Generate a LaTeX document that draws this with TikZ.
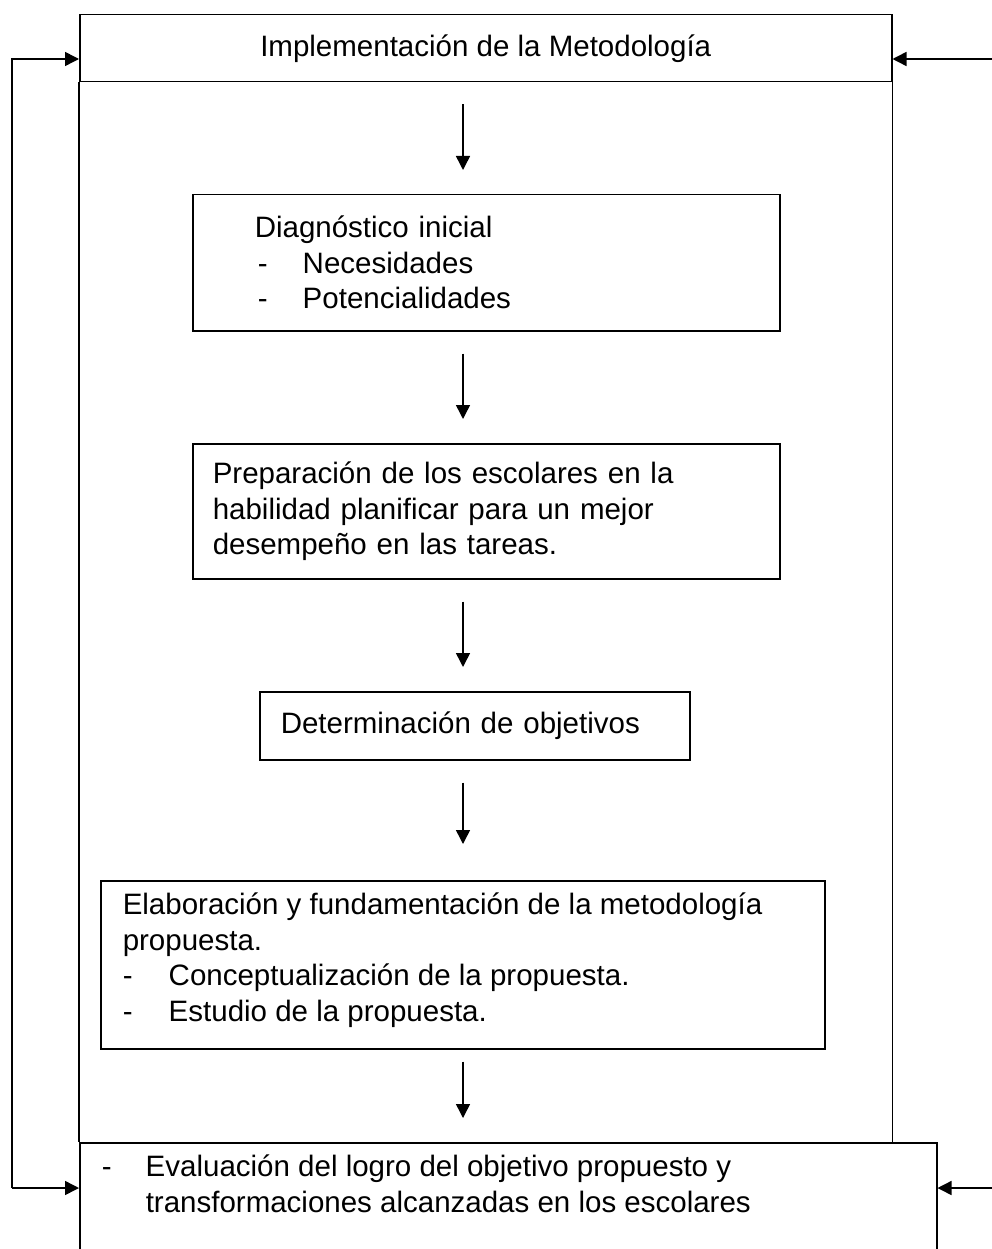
\documentclass[tikz,border=0pt]{standalone}
\usepackage{fontspec}
\setmainfont{Liberation Sans}
\usetikzlibrary{arrows.meta}
\tikzset{
  caja/.style={draw,line width=1.5pt,inner ysep=0pt,align=left,anchor=north west},
  flecha/.style={line width=1.5pt,-{Triangle[length=14pt,width=14pt]}},
  paso/.style={flecha,shorten <=22pt,shorten >=24pt}
}
\newcommand{\guion}{\makebox[48pt][l]{\hspace{3pt}-}}

\begin{document}
\begin{tikzpicture}[x=1pt,y=-1pt,font=\fontsize{29.5}{35.5}\selectfont]% ------ Metodologia ----------------
    \useasboundingbox (0,0) rectangle (992,1249);
    \node [caja,minimum width=812pt,minimum height=67pt,align=center] (impl) at (79,14) {Implementación de la Metodología};
    \node [caja,minimum width=587pt,minimum height=136pt,text width=463pt,inner xsep=62pt] (diag) at (192,194)
      {Diagnóstico inicial\\\guion Necesidades\\\guion Potencialidades};
    \node [caja,minimum width=587pt,minimum height=135pt,text width=547pt,inner xsep=20pt] (prep) at (192,443)
      {Preparación de los escolares en la\\habilidad planificar para un mejor\\desempeño en las tareas.};
    \node [caja,minimum width=430pt,minimum height=68pt,text width=388pt,inner xsep=21pt] (obje) at (259,691)
      {Determinación de objetivos};
    \node [caja,inner xsep=22pt] (elab) at (100,880)
      {\parbox[c][168pt][t]{680pt}{\rule{0pt}{34pt}Elaboración y fundamentación de la metodología\\propuesta.\\\makebox[46pt][l]{-}Conceptualización de la propuesta.\\\makebox[46pt][l]{-}Estudio de la propuesta.}};
    \node [caja,inner xsep=22pt] (eval) at (79,1142)
      {\parbox[c][130pt][t]{813pt}{\rule{0pt}{34pt}\makebox[44pt][l]{-}Evaluación del logro del objetivo propuesto y\\\hspace*{44pt}transformaciones alcanzadas en los escolares}};
    \draw [line width=1.5pt] (impl.south west) -- (impl.south west |- eval.north);
    \draw [line width=1.5pt] (impl.south east) -- (impl.south east |- eval.north);
    \coordinate (eje) at (463,0);
    \draw [paso] (eje |- impl.south) -- (eje |- diag.north);
    \draw [paso] (eje |- diag.south) -- (eje |- prep.north);
    \draw [paso] (eje |- prep.south) -- (eje |- obje.north);
    \draw [paso,shorten >=36pt] (eje |- obje.south) -- (eje |- elab.north);
    \draw [paso,shorten <=12pt] (eje |- elab.south) -- (eje |- eval.north);
    \coordinate (izq1) at (12,59);
    \coordinate (izq2) at (12,1188);
    \coordinate (der1) at (992,59);
    \coordinate (der2) at (992,1188);
    \draw [flecha] (izq2) -- (izq1) -- (izq1 -| impl.west);
    \draw [flecha] (izq2) -- (izq2 -| eval.west);
    \draw [flecha] (der1) -- (der1 -| impl.east);
    \draw [flecha] (der2) -- (der2 -| eval.east);
\end{tikzpicture}
\end{document}
